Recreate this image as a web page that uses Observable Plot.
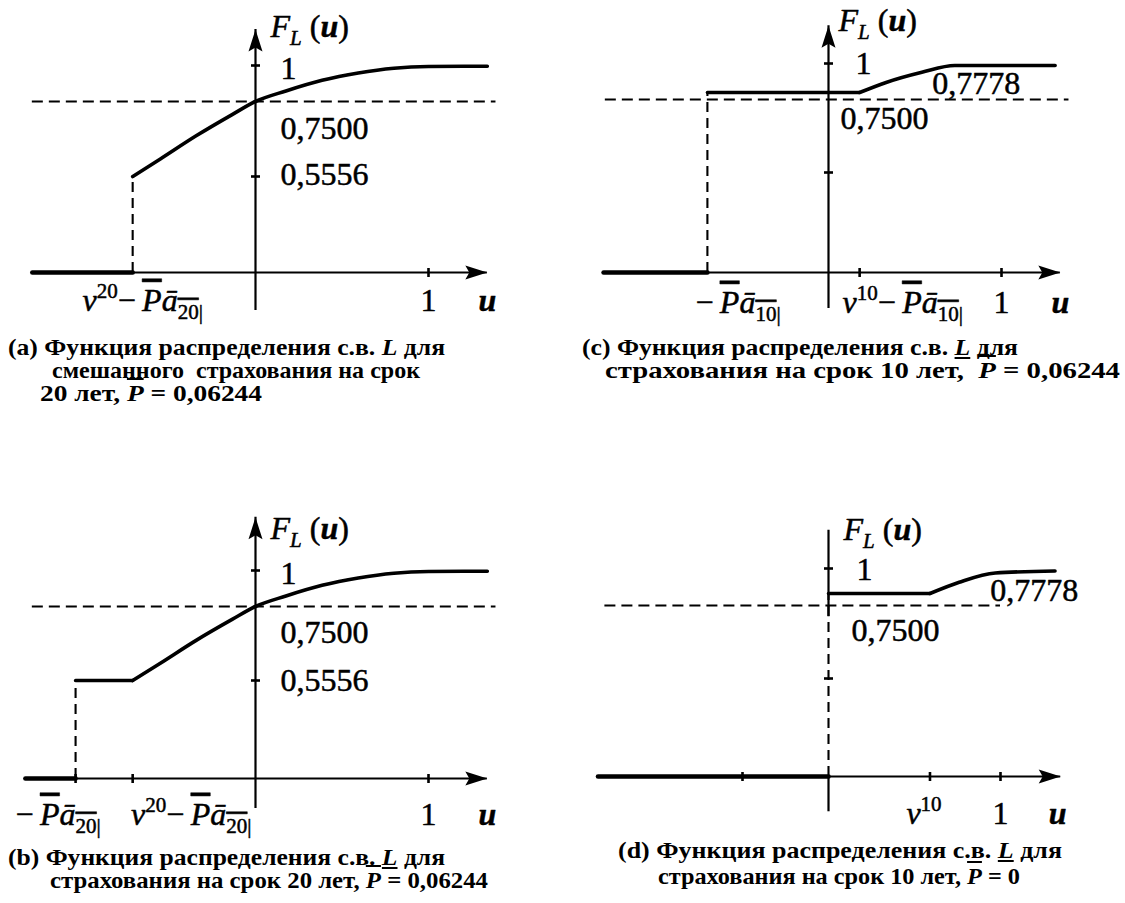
<!DOCTYPE html>
<html><head><meta charset="utf-8">
<script src="https://cdn.jsdelivr.net/npm/d3@7"></script>
<script src="https://cdn.jsdelivr.net/npm/@observablehq/plot@0.6"></script>
<style>
html,body{margin:0;padding:0;background:#fff;}
#page{position:relative;width:1125px;height:903px;overflow:hidden;background:#fff;}
.panel{position:absolute;}
.panel svg{display:block;max-width:none !important;overflow:visible;background:transparent;}
.cap{position:absolute;font-family:"Liberation Serif","Times New Roman",serif;font-weight:bold;font-size:24px;line-height:20px;white-space:pre;color:#000;transform-origin:0 50%;}
.cap i{font-style:italic;}
.ov{text-decoration:overline;}
.ul{text-decoration:underline;}
</style></head>
<body><div id="page"></div>
<script>
// ------------------------------------------------------------------ data
// printed levels of the distribution function
const levelJump20 = 0.5556;   // P(T >= 20)
const levelJump10 = 0.7778;   // P(T >= 10)
const levelQuant  = 0.75;     // 75% level (dashed)
const yTickValues = [0.5556, 1];
const labelOne = "1", label7500 = "0,7500", label5556 = "0,5556", label7778 = "0,7778";

// (a) endowment insurance, 20 years
const aZeroU  = [-1.29, -0.71];
const aJumpU  = -0.71;
const curve20U = [-0.71, -0.55, -0.343, -0.135, 0, 0.176, 0.385, 0.594, 0.80, 1.0, 1.34];
const curve20F = [0.5556, 0.601, 0.661, 0.716, 0.75, 0.823, 0.897, 0.948, 0.981, 0.993, 0.995];

// (b) term insurance, 20 years
const bZeroU  = [-1.33, -1.04];
const bJumpU  = -1.04;
const bFlatU  = [-1.04, -0.71];

// (c) term insurance, 10 years
const cZeroU  = [-1.30, -0.70];
const cJumpU  = -0.70;
const cFlatU  = [-0.70, 0.18];
const cCurveU = [0.18, 0.333, 0.54, 0.73, 1.31];
const cCurveF = [0.7778, 0.855, 0.933, 0.985, 0.985];

// (d) term insurance, 10 years, P = 0
const dZeroU  = [-1.34, 0];
const dJumpU  = 0;
const dFlatU  = [0, 0.59];
const dCurveU = [0.59, 0.76, 0.97, 1.317];
const dCurveF = [0.7778, 0.878, 0.96, 0.978];

// axis extents (u from left end to arrow, F from bottom to top)
const aAxisU = [-1.29, 1.34], aAxisF = [-0.22, 1.25];
const bAxisU = [-1.33, 1.34], bAxisF = [-0.17, 1.37];
const cAxisU = [-1.30, 1.34], cAxisF = [-0.20, 1.29];
const dAxisU = [-1.34, 1.35], dAxisF = [-0.20, 1.34], dAxisGap = [0, 0.72];

// rich label texts
const richLabels = {
  "@FL":     [["F","i"],["L","i sub"],[" (",""],["u","i b"],[")",""]],
  "@v20":    [["v","i"],["20","sup"],["−\u2009",""],["P","i ov"],["ā","i"],["20","sub ov"],["|","sub"]],
  "@mPa20":  [["−\u2009",""],["P","i ov"],["ā","i"],["20","sub ov"],["|","sub"]],
  "@mPa10":  [["−\u2009",""],["P","i ov"],["ā","i"],["10","sub ov"],["|","sub"]],
  "@v10Pa10":[["v","i"],["10","sup"],["−\u2009",""],["P","i ov"],["ā","i"],["10","sub ov"],["|","sub"]],
  "@v10":    [["v","i"],["10","sup"]]
};

// captions
const captionA = ["(a) Функция распределения с.в. <i>L</i> для", "смешанного  страхования на срок", "20 лет, <i class='ov'>P</i> = 0,06244"];
const captionC = ["(c) Функция распределения с.в. <i class='ul'>L</i> для", "страхования на срок 10 лет,  <i class='ov'>P</i> = 0,06244"];
const captionB = ["(b) Функция распределения с.в. <i class='ul'>L</i> для", "страхования на срок 20 лет, <i class='ov'>P</i> = 0,06244"];
const captionD = ["(d) Функция распределения с.в. <i class='ul'>L</i> для", "страхования на срок 10 лет, <i class='ov'>P</i> = 0"];

// ------------------------------------------------------------------ helpers
const FONT = "Liberation Serif, Times New Roman, serif";
const NS = "http://www.w3.org/2000/svg";
const table = (us, fs) => us.map((u, i) => ({u, f: Array.isArray(fs) ? fs[i] : fs}));

const arrowUp = {draw(c){c.moveTo(0,0);c.lineTo(7,22);c.lineTo(0,18);c.lineTo(-7,22);c.closePath();}};
const arrowRight = {draw(c){c.moveTo(0,0);c.lineTo(-22,-7);c.lineTo(-18,0);c.lineTo(-22,7);c.closePath();}};
const tickH = {draw(c){c.moveTo(-4.5,0);c.lineTo(4.5,0);}};
const tickV = {draw(c){c.moveTo(0,-4.5);c.lineTo(0,4.5);}};

function applyRich(svg) {
  svg.querySelectorAll("text").forEach(el => {
    const segs = richLabels[el.textContent];
    if (!segs) return;
    while (el.firstChild) el.removeChild(el.firstChild);
    let cur = 0;
    for (const [t, flags] of segs) {
      const fl = flags.split(" ");
      const ts = document.createElementNS(NS, "tspan");
      ts.textContent = t;
      let shift = 0;
      if (fl.includes("sub")) { shift = 8; ts.setAttribute("font-size", 21); }
      if (fl.includes("sup")) { shift = -13; ts.setAttribute("font-size", 21); }
      if (shift !== cur) { ts.setAttribute("dy", shift - cur); cur = shift; }
      if (fl.includes("i")) ts.setAttribute("font-style", "italic");
      if (fl.includes("b")) ts.setAttribute("font-weight", "bold");
      if (fl.includes("ov")) ts.setAttribute("text-decoration", "overline");
      el.appendChild(ts);
    }
  });
}

function buildPanel(s) {
  const marks = [];
  const ink = "#000";
  // axes
  marks.push(Plot.ruleY([0], {x1: s.axisU[0], x2: s.axisU[1], stroke: ink, strokeWidth: 2.2}));
  marks.push(Plot.ruleX(s.yAxisSegs, {x: () => 0, y1: d => d[0], y2: d => d[1], stroke: ink, strokeWidth: 2.2}));
  marks.push(Plot.dot([{u: s.axisU[1], f: 0}], {x: "u", y: "f", symbol: arrowRight, fill: ink, stroke: "none"}));
  if (s.arrowTop) marks.push(Plot.dot([{u: 0, f: s.axisF[1]}], {x: "u", y: "f", symbol: arrowUp, fill: ink, stroke: "none"}));
  marks.push(Plot.dot(s.yTicks.map(f => ({u: 0, f})), {x: "u", y: "f", symbol: tickH, stroke: ink, strokeWidth: 2.6, fill: "none"}));
  marks.push(Plot.dot(s.xTicks.map(u => ({u, f: 0})), {x: "u", y: "f", symbol: tickV, stroke: ink, strokeWidth: 2.6, fill: "none"}));
  // dashed 75% level
  marks.push(Plot.ruleY([levelQuant], {x1: s.dashU[0], x2: s.dashU[1], stroke: ink, strokeWidth: 2.1, strokeDasharray: "11,6"}));
  // F = 0 part
  marks.push(Plot.line(table(s.zeroU, 0), {x: "u", y: "f", stroke: ink, strokeWidth: 4.6}));
  // jump (dashed)
  marks.push(Plot.ruleX([s.jump], {x: "u", y1: 0, y2: "f", stroke: ink, strokeWidth: 2.1, strokeDasharray: "10,6"}));
  // flat parts and curves
  for (const fl of s.flats) marks.push(Plot.line(fl, {x: "u", y: "f", stroke: ink, strokeWidth: 3.4}));
  for (const cv of s.curves) marks.push(Plot.line(cv, {x: "u", y: "f", stroke: ink, strokeWidth: 3.6, curve: "monotone-x"}));
  // labels
  for (const L of s.labels) {
    marks.push(Plot.text([L], {x: "u", y: "f", text: "t", textAnchor: L.anchor || "start",
      dx: L.dx || 0, dy: L.dy || 0, fontSize: 32, fontFamily: FONT,
      fontStyle: L.italic ? "italic" : "normal", fontWeight: L.bold ? "bold" : "normal",
      fill: ink, stroke: ink, strokeWidth: 0.5}));
  }
  const svg = Plot.plot({
    width: s.width, height: s.height, margin: 0,
    style: {background: "transparent", fontFamily: FONT, overflow: "visible"},
    x: {type: "linear", domain: [0, 1], range: s.xRange, axis: null},
    y: {type: "linear", domain: s.yDomain, range: s.yRange, axis: null},
    marks
  });
  applyRich(svg);
  const div = document.createElement("div");
  div.className = "panel";
  div.style.left = s.left + "px"; div.style.top = s.top + "px";
  div.appendChild(svg);
  document.getElementById("page").appendChild(div);
}

function addCaption(lines, lefts, centers, widths) {
  lines.forEach((html, i) => {
    const d = document.createElement("div");
    d.className = "cap";
    d.innerHTML = html;
    d.style.left = lefts[i] + "px";
    d.style.top = (centers[i] - 10) + "px";
    document.getElementById("page").appendChild(d);
    const w = d.getBoundingClientRect().width;
    if (w > 0) d.style.transform = "scaleX(" + (widths[i] / w).toFixed(4) + ")";
  });
}

// ------------------------------------------------------------------ panels
buildPanel({
  left: 0, top: 0, width: 560, height: 330,
  xRange: [255, 428], yDomain: [0, levelJump20, levelQuant, 1], yRange: [272, 176, 101, 65],
  axisU: aAxisU, axisF: aAxisF, yAxisSegs: [aAxisF], arrowTop: true,
  zeroU: aZeroU, jump: {u: aJumpU, f: levelJump20}, flats: [],
  curves: [table(curve20U, curve20F)],
  dashU: [-1.29, 1.39], yTicks: yTickValues, xTicks: [1],
  labels: [
    {u: 0, f: 1, t: labelOne, dx: 25, dy: 3},
    {u: 0, f: levelQuant, t: label7500, dx: 25, dy: 27},
    {u: 0, f: levelJump20, t: label5556, dx: 25, dy: -2},
    {u: 0, f: aAxisF[1], t: "@FL", dx: 15, dy: -3},
    {u: 1, f: 0, t: labelOne, anchor: "middle", dy: 28},
    {u: aAxisU[1], f: 0, t: "u", anchor: "middle", dy: 28, italic: true, bold: true},
    {u: aJumpU, f: 0, t: "@v20", anchor: "middle", dx: 10, dy: 28}
  ]
});

buildPanel({
  left: 0, top: 450, width: 560, height: 370,
  xRange: [255, 428], yDomain: [0, levelJump20, levelQuant, 1], yRange: [328, 230, 156, 120],
  axisU: bAxisU, axisF: bAxisF, yAxisSegs: [bAxisF], arrowTop: true,
  zeroU: bZeroU, jump: {u: bJumpU, f: levelJump20},
  flats: [table(bFlatU, levelJump20)],
  curves: [table(curve20U, curve20F)],
  dashU: [-1.29, 1.39], yTicks: yTickValues, xTicks: [bJumpU, aJumpU, 1],
  labels: [
    {u: 0, f: 1, t: labelOne, dx: 25, dy: 3},
    {u: 0, f: levelQuant, t: label7500, dx: 25, dy: 26},
    {u: 0, f: levelJump20, t: label5556, dx: 25, dy: 0},
    {u: 0, f: bAxisF[1], t: "@FL", dx: 15, dy: 12},
    {u: 1, f: 0, t: labelOne, anchor: "middle", dy: 36},
    {u: bAxisU[1], f: 0, t: "u", anchor: "middle", dy: 36, italic: true, bold: true},
    {u: bJumpU, f: 0, t: "@mPa20", anchor: "start", dx: -60, dy: 36},
    {u: 0, f: 0, t: "@v20", anchor: "end", dx: -4, dy: 36}
  ]
});

buildPanel({
  left: 560, top: 0, width: 565, height: 330,
  xRange: [268, 441], yDomain: [0, levelJump20, levelQuant, levelJump10, 1], yRange: [272, 172, 99, 92, 63],
  axisU: cAxisU, axisF: cAxisF, yAxisSegs: [cAxisF], arrowTop: true,
  zeroU: cZeroU, jump: {u: cJumpU, f: levelJump10},
  flats: [table(cFlatU, levelJump10)],
  curves: [table(cCurveU, cCurveF)],
  dashU: [-1.29, 1.39], yTicks: yTickValues, xTicks: [cFlatU[1], 1],
  labels: [
    {u: 0, f: 1, t: labelOne, dx: 27, dy: 0},
    {u: 0.6, f: levelJump10, t: label7778, dy: -9},
    {u: 0, f: levelQuant, t: label7500, dx: 12, dy: 19},
    {u: 0, f: cAxisF[1], t: "@FL", dx: 10, dy: -5},
    {u: 1, f: 0, t: labelOne, anchor: "middle", dy: 30},
    {u: cAxisU[1], f: 0, t: "u", anchor: "middle", dy: 30, italic: true, bold: true},
    {u: cJumpU, f: 0, t: "@mPa10", anchor: "start", dx: -12, dy: 30},
    {u: 0, f: 0, t: "@v10Pa10", anchor: "start", dx: 14, dy: 30}
  ]
});

buildPanel({
  left: 560, top: 450, width: 565, height: 370,
  xRange: [268, 440], yDomain: [0, levelJump20, levelQuant, levelJump10, 1], yRange: [326, 228, 155, 143, 118],
  axisU: dAxisU, axisF: dAxisF, yAxisSegs: [[dAxisF[0], dAxisGap[0]], [dAxisGap[1], dAxisF[1]]], arrowTop: false,
  zeroU: dZeroU, jump: {u: dJumpU, f: levelJump10},
  flats: [table(dFlatU, levelJump10)],
  curves: [table(dCurveU, dCurveF)],
  dashU: [-1.30, 1.0], yTicks: yTickValues, xTicks: [-0.5, dFlatU[1], 1],
  labels: [
    {u: 0, f: dAxisF[1], t: "@FL", dx: 15, dy: 0},
    {u: 0, f: 1, t: labelOne, dx: 28, dy: 1},
    {u: 0.94, f: levelJump10, t: label7778, dy: -3},
    {u: 0, f: levelQuant, t: label7500, dx: 23, dy: 25},
    {u: dFlatU[1], f: 0, t: "@v10", anchor: "middle", dx: -6, dy: 37},
    {u: 1, f: 0, t: labelOne, anchor: "middle", dy: 37},
    {u: dAxisU[1], f: 0, t: "u", anchor: "middle", dx: -3, dy: 37, italic: true, bold: true}
  ]
});

// ------------------------------------------------------------------ captions
addCaption(captionA, [8, 52, 40], [347, 370, 393], [437, 368, 222]);
addCaption(captionC, [582, 605], [347, 370], [436, 515]);
addCaption(captionB, [8, 50], [857, 880], [437, 438]);
addCaption(captionD, [618, 658], [850, 876], [444, 362]);
</script>
</body></html>
